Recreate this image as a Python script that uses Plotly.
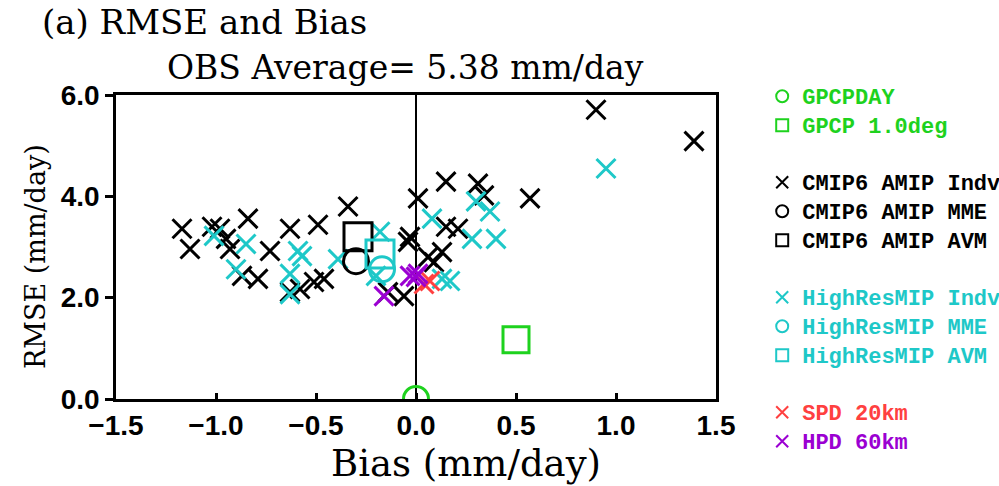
import plotly.graph_objects as go

# ---- data (bias, rmse) in mm/day ----
cmip6_indv_bias = [-1.17, -1.13, -1.02, -0.98, -0.95, -0.93, -0.84, -0.73, -0.87, -0.79,
                   -0.63, -0.49, -0.34, -0.58, -0.51, -0.46, -0.63, -0.14, -0.06, -0.04,
                   0.01, 0.15, 0.31, 0.34, 0.57, 0.15, 0.21, -0.03, 0.06, 0.13, 0.09,
                   0.90, 1.39]
cmip6_indv_rmse = [3.36, 2.96, 3.40, 3.36, 3.16, 2.96, 3.56, 2.92, 2.43, 2.37,
                   3.36, 3.44, 3.80, 2.17, 2.31, 2.37, 2.11, 2.11, 2.03, 3.10,
                   3.96, 4.29, 4.25, 4.02, 3.96, 3.40, 3.36, 3.20, 2.80, 2.90, 2.70,
                   5.71, 5.09]

hr_indv_bias = [-1.01, -0.85, -0.90, -0.59, -0.57, -0.63, -0.63, -0.39, -0.18, -0.20,
                0.08, 0.30, 0.37, 0.28, 0.40, 0.13, 0.17, 0.95]
hr_indv_rmse = [3.22, 3.06, 2.56, 2.92, 2.82, 2.47, 2.07, 2.76, 3.30, 2.43,
                3.56, 3.90, 3.70, 3.16, 3.16, 2.37, 2.33, 4.55]

cmip6_mme_bias, cmip6_mme_rmse = [-0.30], [2.72]
cmip6_avm_bias, cmip6_avm_rmse = [-0.29], [3.20]
hr_mme_bias, hr_mme_rmse = [-0.17], [2.56]
hr_avm_bias, hr_avm_rmse = [-0.18], [2.86]

spd_bias, spd_rmse = [0.07, 0.04], [2.33, 2.27]
hpd_bias, hpd_rmse = [-0.16, -0.03, 0.00, 0.01], [2.03, 2.43, 2.41, 2.47]

gpcpday_bias, gpcpday_rmse = [0.0], [0.0]
gpcp1_bias, gpcp1_rmse = [0.50], [1.17]

x_ticks = [-1.5, -1.0, -0.5, 0.0, 0.5, 1.0, 1.5]
y_ticks = [0.0, 2.0, 4.0, 6.0]

BLACK = "#000000"
CYAN = "#1ec8c8"
GREEN = "#1ed21e"
RED = "#ff4040"
PURPLE = "#9b00d2"


def lab(text, color):
    return f"<span style='color:{color};font-size:22px'>{text}</span>"


fig = go.Figure()


def add(x, y, name, color, symbol, size, lw, group, rank):
    fig.add_trace(go.Scatter(
        x=x, y=y, mode="markers", name=lab(name, color),
        legendgroup=group, legendrank=rank,
        marker=dict(symbol=symbol, size=size, color=color,
                    line=dict(color=color, width=lw)),
        hoverinfo="skip"))


XS, XW = 19, 3
add(cmip6_indv_bias, cmip6_indv_rmse, "CMIP6 AMIP Indv", BLACK, "x-thin-open", XS, XW, "b", 3)
add(hr_indv_bias, hr_indv_rmse, "HighResMIP Indv", CYAN, "x-thin-open", XS, XW, "c", 6)
add(cmip6_mme_bias, cmip6_mme_rmse, "CMIP6 AMIP MME", BLACK, "circle-open", 25, 3, "b", 4)
add(cmip6_avm_bias, cmip6_avm_rmse, "CMIP6 AMIP AVM", BLACK, "square-open", 28, 3, "b", 5)
add(hr_mme_bias, hr_mme_rmse, "HighResMIP MME", CYAN, "circle-open", 25, 3, "c", 7)
add(hr_avm_bias, hr_avm_rmse, "HighResMIP AVM", CYAN, "square-open", 28, 3, "c", 8)
add(spd_bias, spd_rmse, "SPD 20km", RED, "x-thin-open", XS, XW, "d", 9)
add(hpd_bias, hpd_rmse, "HPD 60km", PURPLE, "x-thin-open", XS, XW, "d", 10)
add(gpcpday_bias, gpcpday_rmse, "GPCPDAY", GREEN, "circle-open", 25, 3, "a", 1)
add(gpcp1_bias, gpcp1_rmse, "GPCP 1.0deg", GREEN, "square-open", 26, 3, "a", 2)

tickfont = dict(family="Liberation Sans Narrow, Liberation Sans", size=28,
                color="black", weight="bold")

fig.update_layout(
    width=999, height=486,
    margin=dict(l=116, r=283, t=95, b=87, autoexpand=False),
    paper_bgcolor="white", plot_bgcolor="white",
    showlegend=True,
    legend=dict(x=1.077, y=1.06, xanchor="left", yanchor="top",
                traceorder="grouped", tracegroupgap=28, itemsizing="constant",
                maxheight=470,
                font=dict(family="Liberation Mono", size=20, color="black", weight="bold"),
                bgcolor="rgba(0,0,0,0)"),
    xaxis=dict(range=[-1.5, 1.5], tickvals=x_ticks, tickformat=".1f",
               ticks="inside", ticklen=6, tickwidth=2.5, tickcolor="black",
               showline=True, linecolor="black", linewidth=2.5, mirror=True,
               showgrid=False, zeroline=True, zerolinecolor="black", zerolinewidth=2,
               tickfont=tickfont),
    yaxis=dict(range=[0, 6], tickvals=y_ticks, tickformat=".1f",
               ticks="outside", ticklen=8, tickwidth=2.5, tickcolor="black",
               showline=True, linecolor="black", linewidth=2.5, mirror=True,
               showgrid=False, zeroline=False,
               tickfont=tickfont),
    annotations=[
        dict(text="(a) RMSE and Bias", xref="paper", yref="paper",
             x=-0.1267, y=1.24, xanchor="left", yanchor="middle", showarrow=False,
             font=dict(family="DejaVu Serif", size=34, color="black")),
        dict(text="OBS Average= 5.38 mm/day", xref="paper", yref="paper",
             x=0.0817, y=1.089, xanchor="left", yanchor="middle", showarrow=False,
             font=dict(family="DejaVu Serif", size=33, color="black")),
        dict(text="Bias (mm/day)", xref="paper", yref="paper",
             x=(466 - 116) / 600, y=(399 - 463) / 304, xanchor="center", yanchor="middle",
             showarrow=False,
             font=dict(family="DejaVu Serif", size=37, color="black")),
        dict(text="RMSE (mm/day)", xref="paper", yref="paper", textangle=-90,
             x=(35 - 116) / 600, y=(399 - 257) / 304, xanchor="center", yanchor="middle",
             showarrow=False,
             font=dict(family="DejaVu Serif", size=27, color="black")),
    ],
)

fig.write_html("out.html", config={"displayModeBar": False},
               post_script="document.body.style.margin='0';")
